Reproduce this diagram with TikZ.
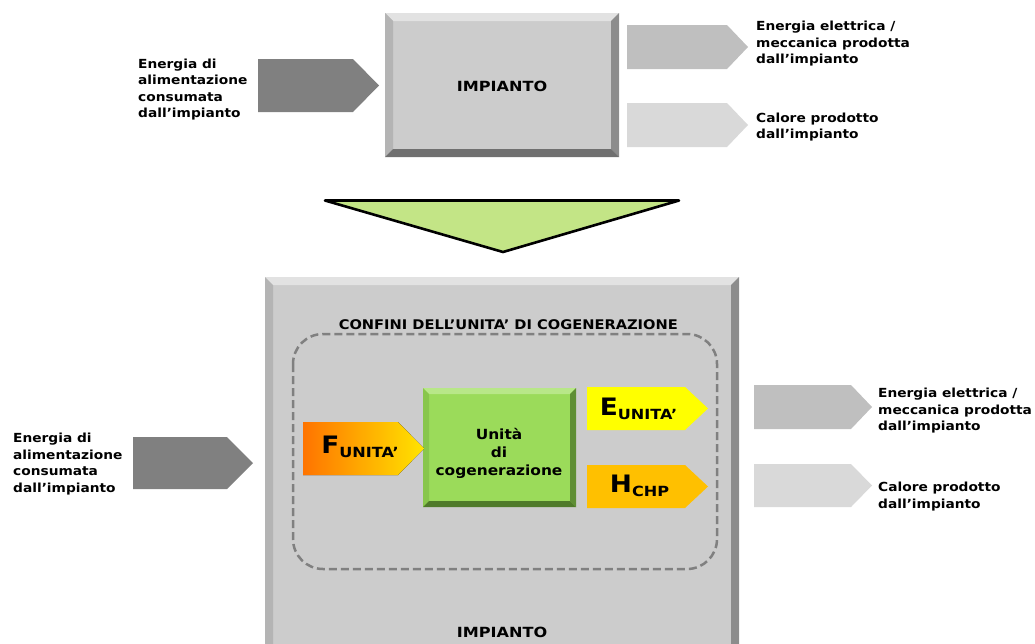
\documentclass[tikz,border=0pt]{standalone}
\usepackage{fontspec}
\setmainfont{DejaVu Sans}
\newfontfamily\widesans[FakeStretch=1.1]{DejaVu Sans}
\newfontfamily\widersans[FakeStretch=1.15]{DejaVu Sans}
\definecolor{grayface}{HTML}{CCCCCC}
\definecolor{graytop}{HTML}{E2E2E2}
\definecolor{grayleft}{HTML}{B4B4B4}
\definecolor{grayright}{HTML}{8C8C8C}
\definecolor{graybot}{HTML}{707070}
\definecolor{greenface}{HTML}{9BDB5A}
\definecolor{greentop}{HTML}{B8E788}
\definecolor{greenleft}{HTML}{88C64C}
\definecolor{greenright}{HTML}{5F8E35}
\definecolor{greenbot}{HTML}{4F7A2A}
\definecolor{arrowdark}{HTML}{808080}
\definecolor{arrowmid}{HTML}{BFBFBF}
\definecolor{arrowlight}{HTML}{D9D9D9}
\definecolor{trifill}{HTML}{C3E586}
\definecolor{bounddash}{HTML}{808080}
\definecolor{fuelorange}{HTML}{FF7400}
\definecolor{fuelyellow}{HTML}{FFE400}
\definecolor{elyellow}{HTML}{FFFF00}
\definecolor{heatamber}{HTML}{FFC000}
% bevelled box: x0 y0 x1 y1 bevel colour-prefix
\newcommand\bevelbox[6]{%
  \fill[#6face] (#1,#2) rectangle (#3,#4);
  \fill[#6top] (#1,#2) -- (#3,#2) -- (#3-#5,#2+#5) -- (#1+#5,#2+#5) -- cycle;
  \fill[#6left] (#1,#2) -- (#1+#5,#2+#5) -- (#1+#5,#4-#5) -- (#1,#4) -- cycle;
  \fill[#6right] (#3,#2) -- (#3-#5,#2+#5) -- (#3-#5,#4-#5) -- (#3,#4) -- cycle;
  \fill[#6bot] (#1,#4) -- (#1+#5,#4-#5) -- (#3-#5,#4-#5) -- (#3,#4) -- cycle;
}
% block arrow pointing right: style x0 y0 x1 y1 tip-depth
\newcommand\flowarrow[6]{%
  \fill[#1] (#2,#3) -- (#4-#6,#3) -- (#4,{(#3+#5)/2}) -- (#4-#6,#5) -- (#2,#5) -- cycle;
}
% symbol with a lowered subscript
\newcommand\flowsym[2]{{\widesans\fontsize{24}{24}\selectfont\bfseries #1}\raisebox{-4pt}{\widersans\fontsize{14}{14}\selectfont\bfseries #2}}
\begin{document}
\begin{tikzpicture}[x=1pt,y=-1pt,
  lbl/.style={font=\widesans\fontsize{12.5}{16.5}\selectfont\bfseries, align=left, anchor=base west, inner sep=0pt},
  title/.style={font=\widesans\fontsize{13.3}{16}\selectfont\bfseries, anchor=base, inner sep=0pt},
  plantlbl/.style={font=\widersans\fontsize{14}{16}\selectfont\bfseries, anchor=base, inner sep=0pt},
  unit/.style={font=\widesans\fontsize{14}{18.2}\selectfont\bfseries, align=center, inner sep=0pt},
  sym/.style={inner sep=0pt, anchor=base},
  boundary/.style={draw=bounddash, line width=2.5pt, dash pattern=on 8pt off 4pt, rounded corners=30pt}]
\useasboundingbox (0,0) rectangle (1035,643);
\clip (0,0) rectangle (1035,643);

% ---- upper scheme: the plant as a whole ----
\bevelbox{385}{13}{619}{157}{8}{gray}
\node[plantlbl] (plantA) at (502,91.7) {IMPIANTO};

\flowarrow{arrowdark}{258}{59}{379}{112}{26}
\node[lbl] (inA) at (138,117.5) {Energia di\\alimentazione\\consumata\\dall’impianto};

\flowarrow{arrowmid}{627}{25}{748}{69}{21}
\node[lbl] (elA) at (756,63.5) {Energia elettrica /\\meccanica prodotta\\dall’impianto};

\flowarrow{arrowlight}{627}{103}{748}{147}{21}
\node[lbl] (heatA) at (756,138.8) {Calore prodotto\\dall’impianto};

% ---- transition triangle ----
\draw[line width=2.6pt, line join=round, fill=trifill] (325,200.5) -- (679,200.5) -- (503,252) -- cycle;

% ---- lower scheme: the plant with its cogeneration unit ----
\bevelbox{265}{277}{739}{670}{8}{gray}
\node[title] (bound) at (508.3,329.3) {CONFINI DELL’UNITA’ DI COGENERAZIONE};
\draw[boundary] (293,334) rectangle (717,569);
\node[plantlbl] (plantB) at (502,637.3) {IMPIANTO};

\bevelbox{423}{388}{576}{507}{6}{green}
\node[unit] (chp) at (499,453.5) {Unità\\di\\cogenerazione};

\fill[left color=fuelorange, right color=fuelyellow]
  (303,422) -- (398,422) -- (424,448.5) -- (398,475) -- (303,475) -- cycle;
\node[sym] (fuel) at (360,453.5) {\flowsym{F}{UNITA’}};

\flowarrow{elyellow}{587}{387}{708}{430}{23}
\node[sym] (eunit) at (638.5,415) {\flowsym{E}{UNITA’}};

\flowarrow{heatamber}{587}{465}{708}{508}{23}
\node[sym] (hchp) at (639.5,492) {\flowsym{H}{CHP}};

\flowarrow{arrowdark}{133}{437}{253}{489}{26}
\node[lbl] (inB) at (13,492) {Energia di\\alimentazione\\consumata\\dall’impianto};

\flowarrow{arrowmid}{754}{385}{872}{429}{21}
\node[lbl] (elB) at (878,430.7) {Energia elettrica /\\meccanica prodotta\\dall’impianto};

\flowarrow{arrowlight}{754}{464}{872}{507}{21}
\node[lbl] (heatB) at (878,508.2) {Calore prodotto\\dall’impianto};
\end{tikzpicture}
\end{document}
